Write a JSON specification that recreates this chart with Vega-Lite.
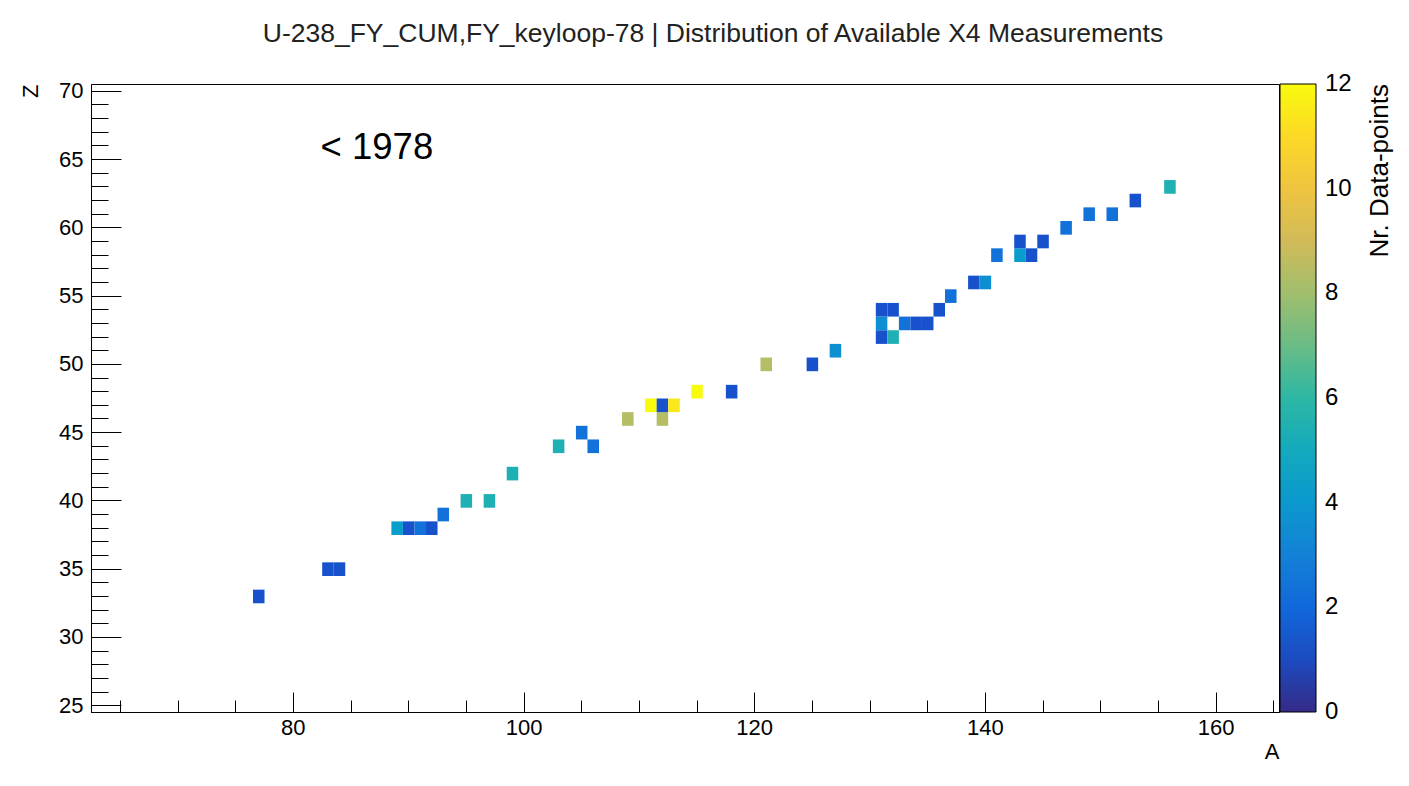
{
  "$schema": "https://vega.github.io/schema/vega-lite/v6.json",
  "autosize": {"type": "none"},
  "width": 1188,
  "height": 628,
  "padding": {"left": 91, "top": 84, "right": 130, "bottom": 74},
  "background": "white",
  "config": {
    "view": {"stroke": "#000", "strokeWidth": 1},
    "font": "Liberation Sans"
  },
  "title": {
    "text": "U-238_FY_CUM,FY_keyloop-78 | Distribution of Available X4 Measurements",
    "font": "Liberation Sans",
    "fontSize": 26.5,
    "fontWeight": "normal",
    "color": "#222",
    "anchor": "middle",
    "dx": 28,
    "offset": 32
  },
  "resolve": {
    "scale": {"x": "independent", "y": "independent"},
    "axis": {"x": "independent", "y": "independent"}
  },
  "layer": [
    {
      "data": {"values": [
        {"A": 77, "Z": 33, "n": 1},
        {"A": 83, "Z": 35, "n": 1},
        {"A": 84, "Z": 35, "n": 1},
        {"A": 89, "Z": 38, "n": 4},
        {"A": 90, "Z": 38, "n": 1},
        {"A": 91, "Z": 38, "n": 2},
        {"A": 92, "Z": 38, "n": 1},
        {"A": 93, "Z": 39, "n": 2},
        {"A": 95, "Z": 40, "n": 5},
        {"A": 97, "Z": 40, "n": 5},
        {"A": 99, "Z": 42, "n": 5},
        {"A": 103, "Z": 44, "n": 5},
        {"A": 105, "Z": 45, "n": 2},
        {"A": 106, "Z": 44, "n": 2},
        {"A": 109, "Z": 46, "n": 8},
        {"A": 112, "Z": 46, "n": 8},
        {"A": 111, "Z": 47, "n": 12},
        {"A": 112, "Z": 47, "n": 1},
        {"A": 113, "Z": 47, "n": 11},
        {"A": 115, "Z": 48, "n": 12},
        {"A": 118, "Z": 48, "n": 1},
        {"A": 121, "Z": 50, "n": 8},
        {"A": 125, "Z": 50, "n": 1},
        {"A": 127, "Z": 51, "n": 3},
        {"A": 131, "Z": 52, "n": 1},
        {"A": 132, "Z": 52, "n": 5},
        {"A": 131, "Z": 53, "n": 3},
        {"A": 133, "Z": 53, "n": 2},
        {"A": 134, "Z": 53, "n": 1},
        {"A": 135, "Z": 53, "n": 1},
        {"A": 131, "Z": 54, "n": 1},
        {"A": 132, "Z": 54, "n": 1},
        {"A": 136, "Z": 54, "n": 1},
        {"A": 137, "Z": 55, "n": 2},
        {"A": 139, "Z": 56, "n": 1},
        {"A": 140, "Z": 56, "n": 3},
        {"A": 141, "Z": 58, "n": 2},
        {"A": 143, "Z": 58, "n": 4},
        {"A": 144, "Z": 58, "n": 1},
        {"A": 143, "Z": 59, "n": 1},
        {"A": 145, "Z": 59, "n": 1},
        {"A": 147, "Z": 60, "n": 2},
        {"A": 149, "Z": 61, "n": 2},
        {"A": 151, "Z": 61, "n": 2},
        {"A": 153, "Z": 62, "n": 1},
        {"A": 156, "Z": 63, "n": 5}
      ]},
      "mark": {"type": "rect", "binSpacing": 0, "strokeWidth": 0, "strokeOpacity": 0},
      "encoding": {
        "x": {
          "field": "A", "type": "quantitative",
          "bin": {"step": 1, "anchor": 0.5, "nice": false, "extent": [62.5, 165.5]},
          "scale": {"domain": [62.5, 165.5], "nice": false, "zero": false},
          "axis": {
            "values": [80, 100, 120, 140, 160],
            "format": "d",
            "grid": false,
            "tickSize": -20,
            "tickColor": "#000",
            "domainColor": "#000",
            "labelFont": "Liberation Sans",
            "labelFontSize": 22,
            "labelColor": "#000",
            "labelPadding": 25,
            "labelFlush": false,
            "title": "A",
            "titleFont": "Liberation Sans",
            "titleFontSize": 22,
            "titleFontWeight": "normal",
            "titleColor": "#000",
            "titleAnchor": "end",
            "titlePadding": 3
          }
        },
        "y": {
          "field": "Z", "type": "quantitative",
          "bin": {"step": 1, "anchor": 0.5, "nice": false, "extent": [24.5, 70.5]},
          "scale": {"domain": [24.5, 70.5], "nice": false, "zero": false},
          "axis": {
            "values": [25, 30, 35, 40, 45, 50, 55, 60, 65, 70],
            "format": "d",
            "grid": false,
            "tickSize": -30,
            "tickColor": "#000",
            "domainColor": "#000",
            "labelFont": "Liberation Sans",
            "labelFontSize": 22,
            "labelColor": "#000",
            "labelPadding": 38,
            "labelFlush": false,
            "title": "Z",
            "titleFont": "Liberation Sans",
            "titleFontSize": 22,
            "titleFontWeight": "normal",
            "titleColor": "#000",
            "titleAnchor": "end",
            "titlePadding": 16
          }
        },
        "fill": {
          "field": "n", "type": "quantitative",
          "scale": {
            "type": "quantize",
            "domain": [0, 12],
            "nice": false,
            "range": ["#263ea9", "#1752cc", "#1063dc", "#1272d9", "#1481d6", "#0e8fd1", "#099dcc", "#0ea8c2", "#1eb0b3", "#2fb7a3", "#53ba91", "#77be7f", "#97be71", "#b5bd65", "#d2bb58", "#e4c149", "#f6c639", "#fdd32a", "#fbe81c", "#f9fb0e"]
          },
          "legend": null
        },
        "stroke": {
          "field": "n", "type": "quantitative",
          "scale": {
            "domain": [0, 12.0001],
            "nice": false,
            "range": ["#352a87", "#0f5cdd", "#1481d6", "#06a4ca", "#2eb7a4", "#87bf77", "#d1bb59", "#fec832", "#f9fb0e"],
            "interpolate": "rgb"
          },
          "legend": {
            "type": "gradient",
            "orient": "none",
            "legendX": 1189,
            "legendY": 0,
            "direction": "vertical",
            "padding": 0,
            "offset": 0,
            "gradientLength": 628,
            "gradientThickness": 36,
            "gradientStrokeColor": "#000",
            "gradientStrokeWidth": 1,
            "values": [0, 2, 4, 6, 8, 10, 12],
            "format": "d",
            "labelFont": "Liberation Sans",
            "labelFontSize": 24,
            "labelColor": "#000",
            "labelOffset": 9,
            "labelOverlap": false,
            "title": "Nr. Data-points",
            "titleOrient": "right",
            "titleFont": "Liberation Sans",
            "titleFontSize": 26,
            "titleFontWeight": "normal",
            "titleColor": "#000",
            "titleAnchor": "end",
            "titlePadding": 41,
            "encode": {
              "title": {"update": {"angle": {"value": -90}, "align": {"value": "right"}}},
              "labels": {"update": {"baseline": {"value": "middle"}}}
            }
          }
        }
      }
    },
    {
      "data": {"values": [{"A": 82.4, "Z": 65.8, "label": "< 1978"}]},
      "mark": {"type": "text", "align": "left", "baseline": "middle", "font": "Liberation Sans", "fontSize": 36.5, "color": "#000"},
      "encoding": {
        "x": {
          "field": "A", "type": "quantitative",
          "scale": {"domain": [62.5, 165.5], "nice": false, "zero": false},
          "axis": {
            "orient": "bottom",
            "values": [65, 70, 75, 80, 85, 90, 95, 100, 105, 110, 115, 120, 125, 130, 135, 140, 145, 150, 155, 160, 165],
            "grid": false,
            "labels": false,
            "domain": false,
            "tickSize": -12,
            "tickColor": "#000",
            "title": null
          }
        },
        "y": {
          "field": "Z", "type": "quantitative",
          "scale": {"domain": [24.5, 70.5], "nice": false, "zero": false},
          "axis": {
            "orient": "left",
            "values": [25, 26, 27, 28, 29, 30, 31, 32, 33, 34, 35, 36, 37, 38, 39, 40, 41, 42, 43, 44, 45, 46, 47, 48, 49, 50, 51, 52, 53, 54, 55, 56, 57, 58, 59, 60, 61, 62, 63, 64, 65, 66, 67, 68, 69, 70],
            "grid": false,
            "labels": false,
            "domain": false,
            "tickSize": -17,
            "tickColor": "#000",
            "title": null
          }
        },
        "text": {"field": "label"}
      }
    }
  ]
}
